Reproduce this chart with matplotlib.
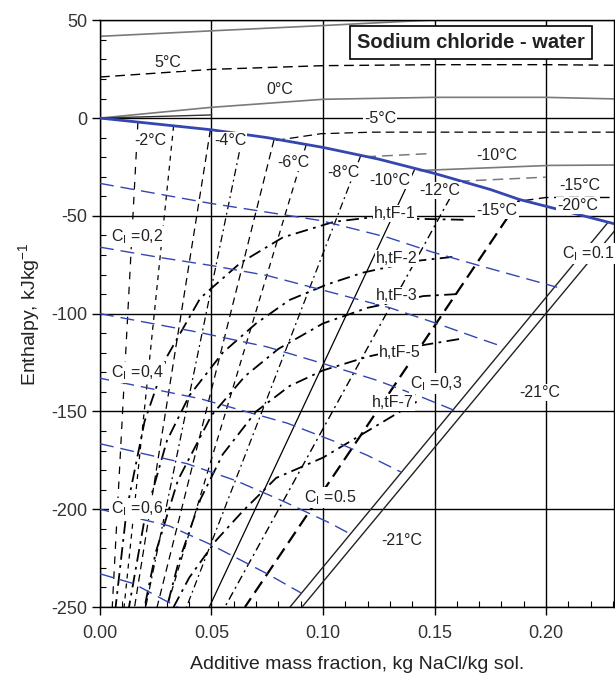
import matplotlib
matplotlib.use("Agg")
import matplotlib.pyplot as plt
from matplotlib.ticker import MultipleLocator

plt.rcParams['font.family'] = ['Liberation Sans', 'DejaVu Sans']
plt.rcParams['mathtext.fontset'] = 'custom'
plt.rcParams['mathtext.rm'] = 'Liberation Sans'
plt.rcParams['mathtext.it'] = 'Liberation Sans'
plt.rcParams['axes.unicode_minus'] = False

# ---------------- data ----------------
# freezing (saturation) line, bold blue
sat_x = [0.0, 0.025, 0.05, 0.075, 0.10, 0.125, 0.15, 0.175, 0.188, 0.21, 0.2305]
sat_h = [0.0, -3.0, -6.0, -10.0, -15.0, -21.0, -28.3, -36.5, -41.6, -48.0, -54.0]

# liquid isotherms above the freezing line
liq_10_x = [0.0, 0.05, 0.10, 0.15]
liq_10_h = [41.8, 44.6, 47.3, 50.2]
liq_5_x = [0.0, 0.05, 0.10, 0.15, 0.20, 0.2305]
liq_5_h = [21.0, 24.9, 26.8, 27.3, 27.3, 27.0]
liq_0_x = [0.0, 0.05, 0.10, 0.15, 0.20, 0.2305]
liq_0_h = [0.0, 5.5, 9.6, 10.6, 10.6, 9.8]
liq_near0_x = [0.0, 0.05]
liq_near0_h = [0.0, 1.6]
liq_m5_x = [0.079, 0.099, 0.122, 0.2305]
liq_m5_h = [-11.4, -8.0, -7.2, -7.2]
liq_m8_x = [0.119, 0.149]
liq_m8_h = [-19.8, -18.1]
liq_m10_x = [0.1435, 0.2018, 0.2305]
liq_m10_h = [-26.8, -24.2, -24.0]
liq_m12_x = [0.161, 0.20]
liq_m12_h = [-32.3, -30.2]
liq_m15_x = [0.19, 0.20, 0.2305]
liq_m15_h = [-42.2, -40.6, -40.6]

# isotherms in the ice + solution region: top (on freezing line) and bottom (h = -250)
iso_names = ['-1', '-2', '-3', '-4', '-5', '-6', '-8', '-10', '-12', '-15']
iso_top_x = [0.017, 0.033, 0.0495, 0.064, 0.078, 0.0925, 0.117, 0.141, 0.161, 0.188]
iso_top_h = [-2.0, -4.0, -6.0, -9.0, -11.2, -13.5, -19.0, -26.5, -32.5, -42.0]
iso_bot_x = [0.0055, 0.0108, 0.0155, 0.0205, 0.0256, 0.030, 0.0388, 0.049, 0.056, 0.065]
iso_bot_h = [-250, -250, -250, -250, -250, -250, -250, -250, -250, -250]

# -20/-21 C lines (solid)
eut_a_x = [0.2274, 0.0852]
eut_a_h = [-53.9, -250.0]
eut_b_x = [0.2305, 0.0906]
eut_b_h = [-58.0, -250.0]

# constant ice fraction lines (blue dashed)
ci01_x = [0.0, 0.049, 0.099, 0.129, 0.149, 0.17, 0.205]
ci01_h = [-33.4, -43.5, -52.4, -61.0, -68.5, -75.4, -86.5]
ci02_x = [0.0, 0.027, 0.05, 0.075, 0.10, 0.13, 0.151, 0.17, 0.181]
ci02_h = [-66.0, -71.3, -75.4, -80.5, -88.0, -97.0, -105.0, -112.7, -117.0]
ci03_x = [0.0, 0.045, 0.075, 0.10, 0.124, 0.145, 0.159]
ci03_h = [-100.0, -109.7, -117.0, -125.5, -134.0, -143.0, -149.5]
ci04_x = [0.0, 0.045, 0.084, 0.1045, 0.12, 0.135]
ci04_h = [-133.0, -143.5, -156.0, -165.0, -172.5, -181.0]
ci05_x = [0.0, 0.039, 0.061, 0.0816, 0.103, 0.112]
ci05_h = [-166.5, -176.7, -185.4, -195.6, -207.0, -212.5]
ci06_x = [0.0, 0.031, 0.049, 0.075, 0.0905]
ci06_h = [-200.0, -208.5, -217.7, -233.0, -243.0]
ci07_x = [0.0, 0.015, 0.038]
ci07_h = [-233.0, -238.0, -252.0]

# h at (tF - n) curves (black dash-dot)
htf1_x = [0.163, 0.12, 0.105, 0.082, 0.063, 0.045, 0.03, 0.02, 0.012, 0.007]
htf1_h = [-52.0, -51.0, -53.0, -61.0, -74.0, -92.0, -122.0, -155.0, -200.0, -250.0]
htf2_x = [0.158, 0.142, 0.118, 0.102, 0.085, 0.07, 0.055, 0.04, 0.03, 0.02, 0.013]
htf2_h = [-71.0, -73.0, -79.0, -85.0, -93.0, -105.0, -120.0, -142.0, -165.0, -205.0, -250.0]
htf3_x = [0.16, 0.145, 0.12, 0.10, 0.08, 0.065, 0.05, 0.035, 0.025, 0.02]
htf3_h = [-90.0, -91.0, -97.0, -105.0, -118.0, -132.0, -152.0, -185.0, -222.0, -250.0]
htf5_x = [0.161, 0.14, 0.12, 0.10, 0.085, 0.07, 0.055, 0.045, 0.035, 0.03]
htf5_h = [-113.0, -117.0, -122.0, -129.0, -137.0, -150.0, -172.0, -195.0, -228.0, -250.0]
htf7_x = [0.142, 0.12, 0.10, 0.079, 0.064, 0.052, 0.04, 0.033]
htf7_h = [-145.0, -160.0, -173.6, -184.0, -201.0, -216.0, -235.0, -250.0]

# labels
lab_text = ['5°C', '0°C', '-5°C', '-2°C', '-4°C', '-6°C', '-8°C', '-10°C', '-12°C',
            '-15°C', '-10°C', '-15°C', '-20°C',
            'h,tF-1', 'h,tF-2', 'h,tF-3', 'h,tF-5', 'h,tF-7',
            'C$_\\mathrm{I}$ =0,2', 'C$_\\mathrm{I}$ =0,4', 'C$_\\mathrm{I}$ =0,6',
            'C$_\\mathrm{I}$ =0.5', 'C$_\\mathrm{I}$ =0,3', 'C$_\\mathrm{I}$ =0.1',
            '-21°C', '-21°C']
lab_x = [0.0305, 0.0807, 0.1256, 0.0224, 0.0583, 0.0865, 0.109, 0.130, 0.1525,
         0.178, 0.178, 0.2152, 0.2143,
         0.1323, 0.1332, 0.1332, 0.1345, 0.1314,
         0.0166, 0.0166, 0.0166,
         0.1031, 0.1507, 0.2188,
         0.1973, 0.1354]
lab_h = [28.5, 14.7, -0.2, -11.4, -11.4, -22.7, -27.8, -31.9, -37.0,
         -47.2, -19.1, -34.4, -44.7,
         -48.8, -71.8, -90.7, -119.9, -145.5,
         -60.5, -130.1, -199.7,
         -194.1, -135.8, -69.2,
         -140.4, -216.1]

x_ticks = [0.00, 0.05, 0.10, 0.15, 0.20]
x_tick_labels = ['0.00', '0.05', '0.10', '0.15', '0.20']
y_ticks = [50, 0, -50, -100, -150, -200, -250]

# ---------------- drawing ----------------
fig = plt.figure(figsize=(6.15, 6.76), dpi=100)
ax = fig.add_axes([0.1626, 0.102, 0.8358, 0.868])
ax.set_xlim(0, 0.2305)
ax.set_ylim(-250, 50)

ax.grid(True, which='major', color='black', linewidth=1.0, zorder=1)
ax.set_axisbelow(True)

blue = '#3446b0'
gray = '#7a7a7a'

# liquid-region isotherms
ax.plot(liq_10_x, liq_10_h, color=gray, lw=1.2, zorder=2)
ax.plot(liq_5_x, liq_5_h, color='black', lw=1.0, dashes=(7, 4), zorder=2)
ax.plot(liq_0_x, liq_0_h, color=gray, lw=1.2, zorder=2)
ax.plot(liq_near0_x, liq_near0_h, color='#333333', lw=1.0, zorder=2)
ax.plot(liq_m5_x, liq_m5_h, color='black', lw=0.9, dashes=(7, 4), zorder=2)
ax.plot(liq_m8_x, liq_m8_h, color=gray, lw=1.1, dashes=(7, 4), zorder=2)
ax.plot(liq_m10_x, liq_m10_h, color=gray, lw=1.2, zorder=2)
ax.plot(liq_m12_x, liq_m12_h, color=gray, lw=1.1, dashes=(7, 4), zorder=2)
ax.plot(liq_m15_x, liq_m15_h, color='black', lw=1.0, dashes=(7, 4), zorder=2)

# isotherms in two-phase region
iso_styles = [dict(dashes=(6, 6), lw=0.9), dict(dashes=(4, 4), lw=0.9),
              dict(dashes=(6, 4), lw=0.9), dict(dashes=(6, 3, 1.5, 3), lw=0.9),
              dict(dashes=(6, 4), lw=0.9), dict(dashes=(5, 4), lw=0.9),
              dict(dashes=(6, 3, 1.5, 3), lw=0.9), dict(lw=0.9),
              dict(dashes=(6, 3, 1.5, 3), lw=1.0), dict(dashes=(6, 3), lw=1.6)]
for i in range(len(iso_names)):
    ax.plot([iso_top_x[i], iso_bot_x[i]], [iso_top_h[i], iso_bot_h[i]],
            color='black', zorder=3, **iso_styles[i])

ax.plot(eut_a_x, eut_a_h, color='#222222', lw=1.0, zorder=3)
ax.plot(eut_b_x, eut_b_h, color='#222222', lw=1.0, zorder=3)

# h,tF-n curves
for cx, ch in [(htf1_x, htf1_h), (htf2_x, htf2_h), (htf3_x, htf3_h),
               (htf5_x, htf5_h), (htf7_x, htf7_h)]:
    ax.plot(cx, ch, color='black', lw=1.3, dashes=(7, 3, 1.5, 3), zorder=3)

# ice fraction lines
for cx, ch in [(ci01_x, ci01_h), (ci02_x, ci02_h), (ci03_x, ci03_h), (ci04_x, ci04_h),
               (ci05_x, ci05_h), (ci06_x, ci06_h), (ci07_x, ci07_h)]:
    ax.plot(cx, ch, color=blue, lw=1.0, dashes=(10, 5), zorder=4)

# freezing line
ax.plot(sat_x, sat_h, color=blue, lw=2.0, zorder=5)

# labels
for t, lx, lh in zip(lab_text, lab_x, lab_h):
    ax.text(lx, lh, t, fontsize=11.5, ha='center', va='center', zorder=6, color='#222222',
            bbox=dict(boxstyle='square,pad=0.08', facecolor='white', edgecolor='none'))

ax.text(0.1665, 38.5, 'Sodium chloride - water', fontsize=14.5, fontweight='bold',
        ha='center', va='center', zorder=7, color='#222222',
        bbox=dict(boxstyle='square,pad=0.35', facecolor='white', edgecolor='black', linewidth=1.2))

# axes and ticks
ax.set_xticks(x_ticks)
ax.set_xticklabels(x_tick_labels)
ax.set_yticks(y_ticks)
ax.xaxis.set_minor_locator(MultipleLocator(0.01))
ax.yaxis.set_minor_locator(MultipleLocator(10))
ax.tick_params(which='major', direction='out', length=6, width=1.0, labelsize=13,
               labelcolor='#333333', pad=3)
ax.tick_params(axis='x', which='major', pad=7)
ax.tick_params(which='minor', direction='in', length=4, width=0.8)
for s in ax.spines.values():
    s.set_linewidth(1.0)

ax.set_xlabel('Additive mass fraction, kg NaCl/kg sol.', fontsize=14, labelpad=10, color='#222222')
ax.set_ylabel('Enthalpy, kJkg$^{-1}$', fontsize=14, labelpad=7, color='#222222')

fig.savefig('out.png', dpi=100)
